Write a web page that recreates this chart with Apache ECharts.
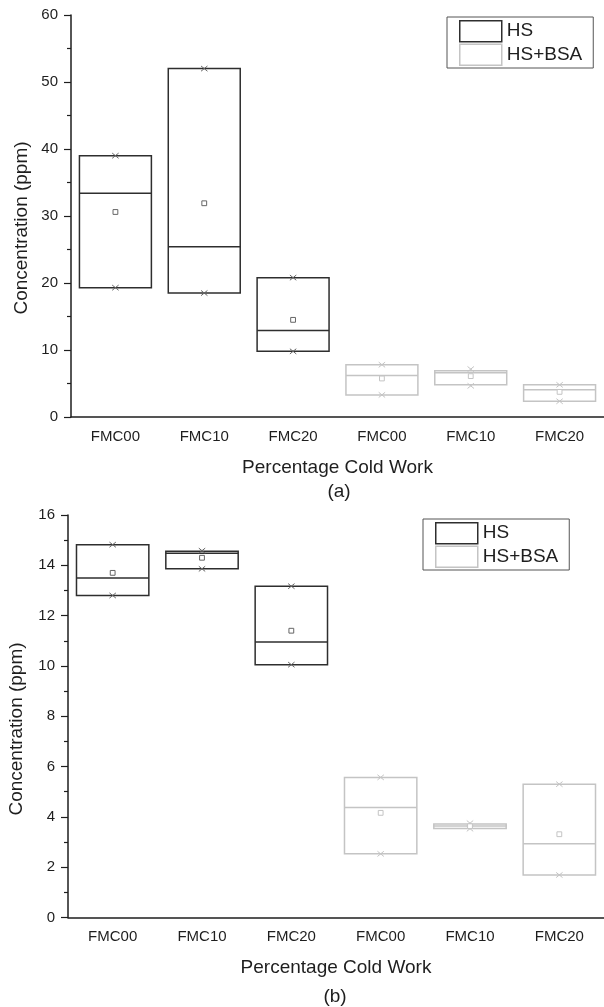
<!DOCTYPE html>
<html>
<head>
<meta charset="utf-8">
<script src="https://cdn.jsdelivr.net/npm/echarts@6/dist/echarts.min.js"></script>
<style>
  html, body { margin: 0; padding: 0; background: #fff; }
  #chart { width: 604px; height: 1007px; }
</style>
</head>
<body>
<div id="chart"></div>
<script>
// Sample groups along the x axis (HS groups first, then HS+BSA groups)
const categories = ['FMC00', 'FMC10', 'FMC20', 'FMC00', 'FMC10', 'FMC20'];
const hsSlots = [0, 1, 2];
const bsaSlots = [3, 4, 5];

// Panel (a): box limits, median, mean and min/max per group
const aHsBoxLow = [19.3, 18.5, 9.8];
const aHsBoxHigh = [39.0, 52.0, 20.8];
const aHsMedian = [33.4, 25.4, 12.9];
const aHsMean = [30.6, 31.9, 14.5];
const aHsMin = [19.3, 18.5, 9.8];
const aHsMax = [39.0, 52.0, 20.8];

const aBsaBoxLow = [3.3, 4.8, 2.35];
const aBsaBoxHigh = [7.8, 6.9, 4.8];
const aBsaMedian = [6.2, 6.6, 4.05];
const aBsaMean = [5.75, 6.1, 3.75];
const aBsaMin = [3.3, 4.65, 2.35];
const aBsaMax = [7.8, 7.15, 4.8];

// Panel (b)
const bHsBoxLow = [12.8, 13.86, 10.05];
const bHsBoxHigh = [14.82, 14.56, 13.17];
const bHsMedian = [13.5, 14.48, 10.95];
const bHsMean = [13.7, 14.3, 11.4];
const bHsMin = [12.8, 13.86, 10.05];
const bHsMax = [14.82, 14.58, 13.17];

const bBsaBoxLow = [2.53, 3.54, 1.69];
const bBsaBoxHigh = [5.57, 3.72, 5.3];
const bBsaMedian = [4.37, 3.64, 2.93];
const bBsaMean = [4.16, 3.63, 3.31];
const bBsaMin = [2.53, 3.53, 1.69];
const bBsaMax = [5.57, 3.75, 5.3];

// y-axis ranges
const aYMin = 0, aYMax = 60, aYStep = 10;
const bYMin = 0, bYMax = 16, bYStep = 2;

function rows(slots, lo, hi, med, mean, mn, mx) {
  return slots.map((s, i) => [s, lo[i], hi[i], med[i], mean[i], mn[i], mx[i]]);
}

const FONT = '"Liberation Sans", Arial, sans-serif';
const INK = '#1e1e1e';

function boxRenderer(boxColor, markColor) {
  return function (params, api) {
    const x = api.value(0);
    const pLo = api.coord([x, api.value(1)]);
    const pHi = api.coord([x, api.value(2)]);
    const pMed = api.coord([x, api.value(3)]);
    const pMean = api.coord([x, api.value(4)]);
    const pMin = api.coord([x, api.value(5)]);
    const pMax = api.coord([x, api.value(6)]);
    const w = api.size([1, 0])[0] * 0.81;
    const cx = pLo[0];
    const cross = (p) => ({
      type: 'group',
      children: [
        { type: 'line', shape: { x1: cx - 3.2, y1: p[1] - 2.6, x2: cx + 3.2, y2: p[1] + 2.6 },
          style: { stroke: markColor, lineWidth: 1 } },
        { type: 'line', shape: { x1: cx - 3.2, y1: p[1] + 2.6, x2: cx + 3.2, y2: p[1] - 2.6 },
          style: { stroke: markColor, lineWidth: 1 } }
      ]
    });
    return {
      type: 'group',
      children: [
        { type: 'rect',
          shape: { x: cx - w / 2, y: pHi[1], width: w, height: pLo[1] - pHi[1] },
          style: { fill: null, stroke: boxColor, lineWidth: 1.5 } },
        { type: 'line',
          shape: { x1: cx - w / 2, y1: pMed[1], x2: cx + w / 2, y2: pMed[1] },
          style: { stroke: boxColor, lineWidth: 1.5 } },
        cross(pMin),
        cross(pMax),
        { type: 'rect',
          shape: { x: cx - 2.4, y: pMean[1] - 2.4, width: 4.8, height: 4.8 },
          style: { fill: '#fff', stroke: markColor, lineWidth: 1 } }
      ]
    };
  };
}

const HS_BOX = '#2e2e2e', HS_MARK = '#666666';
const BSA_BOX = '#c4c4c4', BSA_MARK = '#c4c4c4';

function xAxis(gridIndex) {
  return {
    type: 'category', gridIndex, data: categories,
    boundaryGap: true,
    name: 'Percentage Cold Work', nameLocation: 'middle', nameGap: 41,
    nameTextStyle: { fontFamily: FONT, fontSize: 19, color: INK },
    axisLine: { lineStyle: { color: INK, width: 1.5 } },
    axisTick: { alignWithLabel: true, length: 8, lineStyle: { color: INK, width: 1.2 } },
    axisLabel: { margin: 12, fontFamily: FONT, fontSize: 15, color: INK },
    splitLine: { show: false }
  };
}

function yAxis(gridIndex, min, max, step) {
  return {
    type: 'value', gridIndex, min, max, interval: step,
    axisLine: { show: true, lineStyle: { color: INK, width: 1.5 } },
    axisTick: { show: true, length: 7, lineStyle: { color: INK, width: 1.2 } },
    minorTick: { show: true, splitNumber: 2, length: 4, lineStyle: { color: INK, width: 1.2 } },
    axisLabel: { margin: 13, fontFamily: FONT, fontSize: 15, color: INK },
    splitLine: { show: false }
  };
}

function legend(left, top) {
  return {
    orient: 'vertical', left, top,
    padding: [3, 11, 2, 12],
    itemWidth: 42, itemHeight: 21, itemGap: 1,
    borderColor: '#555', borderWidth: 1,
    selectedMode: false,
    textStyle: { fontFamily: FONT, fontSize: 19, color: INK },
    data: [
      { name: 'HS', icon: 'rect', itemStyle: { color: '#fff', borderColor: HS_BOX, borderWidth: 1.5 } },
      { name: 'HS+BSA', icon: 'rect', itemStyle: { color: '#fff', borderColor: BSA_BOX, borderWidth: 1.5 } }
    ]
  };
}

const option = {
  backgroundColor: '#fff',
  animation: false,
  grid: [
    { left: 71, top: 15, width: 541, height: 402 },
    { left: 68, top: 515, width: 541, height: 402.5 }
  ],
  xAxis: [xAxis(0), xAxis(1)],
  yAxis: [yAxis(0, aYMin, aYMax, aYStep), yAxis(1, bYMin, bYMax, bYStep)],
  legend: [legend(447, 17), legend(423, 519)],
  series: [
    { name: 'HS', type: 'custom', xAxisIndex: 0, yAxisIndex: 0,
      renderItem: boxRenderer(HS_BOX, HS_MARK), encode: { x: 0, y: [1, 2] },
      data: rows(hsSlots, aHsBoxLow, aHsBoxHigh, aHsMedian, aHsMean, aHsMin, aHsMax) },
    { name: 'HS+BSA', type: 'custom', xAxisIndex: 0, yAxisIndex: 0,
      renderItem: boxRenderer(BSA_BOX, BSA_MARK), encode: { x: 0, y: [1, 2] },
      data: rows(bsaSlots, aBsaBoxLow, aBsaBoxHigh, aBsaMedian, aBsaMean, aBsaMin, aBsaMax) },
    { name: 'HS', type: 'custom', xAxisIndex: 1, yAxisIndex: 1,
      renderItem: boxRenderer(HS_BOX, HS_MARK), encode: { x: 0, y: [1, 2] },
      data: rows(hsSlots, bHsBoxLow, bHsBoxHigh, bHsMedian, bHsMean, bHsMin, bHsMax) },
    { name: 'HS+BSA', type: 'custom', xAxisIndex: 1, yAxisIndex: 1,
      renderItem: boxRenderer(BSA_BOX, BSA_MARK), encode: { x: 0, y: [1, 2] },
      data: rows(bsaSlots, bBsaBoxLow, bBsaBoxHigh, bBsaMedian, bBsaMean, bBsaMin, bBsaMax) }
  ],
  graphic: [
    { type: 'text', x: 22, y: 228, rotation: Math.PI / 2,
      style: { text: 'Concentration (ppm)', font: '19px ' + FONT, fill: INK, textAlign: 'center', textVerticalAlign: 'middle' } },
    { type: 'text', x: 17, y: 729, rotation: Math.PI / 2,
      style: { text: 'Concentration (ppm)', font: '19px ' + FONT, fill: INK, textAlign: 'center', textVerticalAlign: 'middle' } },
    { type: 'text', x: 339, y: 492,
      style: { text: '(a)', font: '19px ' + FONT, fill: INK, textAlign: 'center', textVerticalAlign: 'middle' } },
    { type: 'text', x: 335, y: 997,
      style: { text: '(b)', font: '19px ' + FONT, fill: INK, textAlign: 'center', textVerticalAlign: 'middle' } }
  ]
};

const chart = echarts.init(document.getElementById('chart'), null, { renderer: 'canvas' });
chart.setOption(option);
</script>
</body>
</html>
